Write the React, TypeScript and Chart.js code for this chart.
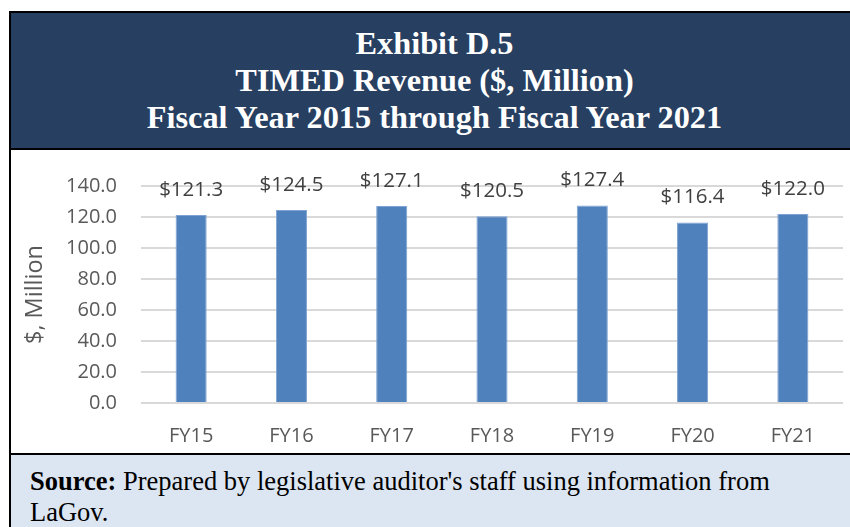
import React, { useEffect, useRef } from "react";
import { Chart, registerables } from "chart.js";

Chart.register(...registerables);

const categories = ["FY15", "FY16", "FY17", "FY18", "FY19", "FY20", "FY21"];
const revenue = [121.3, 124.5, 127.1, 120.5, 127.4, 116.4, 122.0];
const yMin = 0;
const yMax = 140;
const yStep = 20;
const titleLines = [
  "Exhibit D.5",
  "TIMED Revenue ($, Million)",
  "Fiscal Year 2015 through Fiscal Year 2021",
];
const yAxisTitle = "$, Million";
const sourceLabel = "Source:";
const sourceLine1 = " Prepared by legislative auditor's staff using information from";
const sourceLine2 = "LaGov.";

const TICK_FONT = "'Open Sans', 'DejaVu Sans', sans-serif";

const valueLabelPlugin = {
  id: "valueLabels",
  afterDatasetsDraw(chart: any) {
    const ctx = chart.ctx;
    const meta = chart.getDatasetMeta(0);
    ctx.save();
    ctx.font = `20.5px ${TICK_FONT}`;
    ctx.fillStyle = "#404040";
    ctx.textAlign = "center";
    ctx.textBaseline = "middle";
    meta.data.forEach((el: any, i: number) => {
      ctx.fillText("$" + revenue[i].toFixed(1), el.x, el.y - 25);
    });
    ctx.restore();
  },
};

function RevenueChart() {
  const ref = useRef<HTMLCanvasElement | null>(null);
  useEffect(() => {
    if (!ref.current) return;
    const chart = new Chart(ref.current, {
      type: "bar",
      data: {
        labels: categories,
        datasets: [
          {
            data: revenue,
            backgroundColor: "#4F81BD",
            borderColor: "#7FA3D3",
            borderWidth: 1,
            barPercentage: 0.31,
            categoryPercentage: 1,
          },
        ],
      },
      options: {
        animation: false,
        responsive: true,
        maintainAspectRatio: false,
        layout: { padding: { left: 10, top: 33, right: 7, bottom: 0 } },
        plugins: {
          legend: { display: false },
          tooltip: { enabled: false },
          title: { display: false },
        },
        scales: {
          x: {
            grid: { display: false },
            border: { display: false },
            ticks: {
              color: "#595959",
              font: { family: TICK_FONT, size: 20 },
              padding: 13,
            },
            afterFit(scale: any) {
              scale.height = 50;
            },
          },
          y: {
            min: yMin,
            max: yMax,
            grid: { color: "#D9D9D9", lineWidth: 2, drawTicks: false },
            border: { display: false },
            ticks: {
              stepSize: yStep,
              color: "#595959",
              font: { family: TICK_FONT, size: 20 },
              padding: 24,
              callback: (v: any) => Number(v).toFixed(1),
            },
            title: {
              display: true,
              text: yAxisTitle,
              color: "#595959",
              font: { family: TICK_FONT, size: 23.5 },
              padding: 0,
            },
            afterFit(scale: any) {
              scale.width = 120;
            },
          },
        },
      },
      plugins: [valueLabelPlugin],
    });
    return () => chart.destroy();
  }, []);
  return <canvas ref={ref} />;
}

export default function App() {
  const abs = (l: number, t: number, w: number, h: number, bg: string): React.CSSProperties => ({
    position: "absolute",
    left: l,
    top: t,
    width: w,
    height: h,
    background: bg,
  });
  return (
    <div
      style={{
        position: "absolute",
        left: 0,
        top: 0,
        width: 850,
        height: 527,
        overflow: "hidden",
        background: "#ffffff",
      }}
    >
      <div style={abs(9, 11, 860, 2, "#000")} />
      <div style={abs(9, 11, 2, 530, "#000")} />
      <div
        style={{
          ...abs(11, 13, 847, 135, "#274062"),
          display: "flex",
          flexDirection: "column",
          justifyContent: "center",
          alignItems: "center",
          color: "#ffffff",
          fontFamily: "'Liberation Serif', 'Times New Roman', serif",
          fontWeight: "bold",
          fontSize: 32.3,
          lineHeight: "37px",
          textAlign: "center",
        }}
      >
        {titleLines.map((t) => (
          <div key={t}>{t}</div>
        ))}
      </div>
      <div style={abs(11, 148, 860, 2, "#000")} />
      <div style={{ position: "absolute", left: 11, top: 150, width: 839, height: 303 }}>
        <RevenueChart />
      </div>
      <div style={abs(11, 453, 860, 2, "#000")} />
      <div
        style={{
          ...abs(11, 455, 860, 80, "#DCE6F2"),
          boxSizing: "border-box",
          paddingLeft: 19,
          paddingTop: 11,
          fontFamily: "'Liberation Serif', 'Times New Roman', serif",
          fontSize: 26.5,
          lineHeight: "31px",
          color: "#000",
          whiteSpace: "nowrap",
        }}
      >
        <b>{sourceLabel}</b>
        {sourceLine1}
        <br />
        {sourceLine2}
      </div>
    </div>
  );
}
